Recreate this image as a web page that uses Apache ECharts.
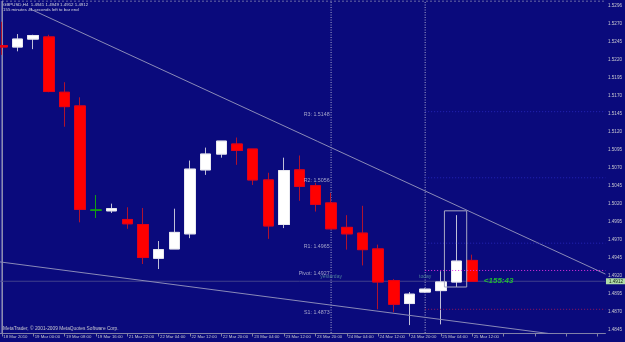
<!DOCTYPE html>
<html><head><meta charset="utf-8">
<script src="https://cdn.jsdelivr.net/npm/echarts@6/dist/echarts.min.js"></script>
<style>html,body{margin:0;padding:0;background:#0a0a7c;overflow:hidden;}#c{width:631px;height:342px;margin-left:-6px;}</style>
</head><body><div id="c"></div>
<script>
// ---- data (H4 bars, GBPUSD) ----
const barTimes = ['18 Mar 2010','18 Mar 20:00','19 Mar 00:00','19 Mar 04:00','19 Mar 08:00','19 Mar 12:00','19 Mar 16:00','19 Mar 20:00','21 Mar 22:00','22 Mar 00:00','22 Mar 04:00','22 Mar 08:00','22 Mar 12:00','22 Mar 16:00','22 Mar 20:00','23 Mar 00:00','23 Mar 04:00','23 Mar 08:00','23 Mar 12:00','23 Mar 16:00','23 Mar 20:00','24 Mar 00:00','24 Mar 04:00','24 Mar 08:00','24 Mar 12:00','24 Mar 16:00','24 Mar 20:00','25 Mar 00:00','25 Mar 04:00','25 Mar 08:00','25 Mar 12:00'];
const futureSlots = ['25 Mar 16:00','25 Mar 20:00','26 Mar 00:00','26 Mar 04:00','26 Mar 08:00','26 Mar 12:00','26 Mar 16:00','26 Mar 20:00'];
const opens  = [1.5240,1.5238,1.5249,1.5252,1.5175,1.5156,1.5011,1.5010,1.4998,1.4991,1.4944,1.4957,1.4978,1.5067,1.5089,1.5103,1.5096,1.5053,1.4991,1.5067,1.5045,1.5021,1.4987,1.4979,1.4957,1.4913,1.4881,1.4897,1.4899,1.4911,1.4941];
const highs  = [1.5273,1.5256,1.5255,1.5255,1.5189,1.5168,1.5032,1.5020,1.5015,1.5014,1.4968,1.5013,1.5080,1.5098,1.5107,1.5112,1.5096,1.5063,1.5084,1.5087,1.5049,1.5035,1.5004,1.5017,1.4963,1.4915,1.4897,1.4902,1.4926,1.5004,1.4949];
const lows   = [1.5227,1.5232,1.5235,1.5175,1.5127,1.4994,1.5000,1.5007,1.4985,1.4936,1.4929,1.4957,1.4972,1.5060,1.5084,1.5074,1.5046,1.4971,1.4986,1.5024,1.5009,1.4985,1.4956,1.4934,1.4873,1.4869,1.4851,1.4896,1.4852,1.4904,1.4912];
const closes = [1.5238,1.5249,1.5254,1.5176,1.5155,1.5012,1.5011,1.5013,1.4992,1.4945,1.4956,1.4980,1.5068,1.5089,1.5107,1.5094,1.5053,1.4989,1.5066,1.5044,1.5019,1.4985,1.4978,1.4956,1.4911,1.4880,1.4894,1.4901,1.4911,1.4940,1.4912];
const yTickLabels = ['1.5296','1.5270','1.5245','1.5220','1.5195','1.5170','1.5145','1.5120','1.5095','1.5070','1.5045','1.5020','1.4995','1.4970','1.4945','1.4920','1.4895','1.4870','1.4845'];
const pivotNames  = ['R3','R2','R1','Pivot','S1'];
const pivotLevels = [1.5148,1.5056,1.4965,1.4927,1.4873];
const dayStartBars = [21, 27];
const dayNames = ['yesterday','today'];
const upperTrendBars = [1.8, 38.5];
const upperTrendPrices = [1.5291, 1.4922];
const lowerTrendBars = [-0.5, 38.5];
const lowerTrendPrices = [1.4940, 1.4829];
const boxBars = [28.23, 29.65];
const boxPrices = [1.5010, 1.4904];
const headerLine1 = 'GBPUSD,H4  1.4941 1.4949 1.4912 1.4912';
const headerLine2 = '155 minutes 41 seconds left to bar end';
const countdownText = '<155:43';
const copyright = 'MetaTrader, \u00a9 2001-2009 MetaQuotes Software Corp.';

// ---- build ----
const yMin = 1.4840, yMax = 1.5302;
const nBars = barTimes.length;
const categories = barTimes.concat(futureSlots);
const leftEdge = -0.5, rightEdge = categories.length - 0.5;
const lastClose = closes[nBars - 1];
const countdownBar = nBars - 1 + 0.71;
const dayLabelPrice = 1.4918;
const font = 'Liberation Sans, Arial, sans-serif';
const yLabelSet = new Set(yTickLabels);
const shift = 6;

const wickData = opens.map((o, i) => [o, closes[i], lows[i], highs[i]]);
const bodyData = opens.map((o, i) => [o, closes[i], Math.min(o, closes[i]), Math.max(o, closes[i])]);

const pivotColors = ['#2626b8','#2626b8','#2626b8','#e030e0','#9a1858'];

const series = [];
series.push({type:'line', xAxisIndex:1, yAxisIndex:0, z:1, symbol:'none', silent:true,
  data:[[leftEdge,yMax],[rightEdge,yMax]], lineStyle:{color:'#8888b0', width:1, type:[2,2]}});
series.push({type:'line', xAxisIndex:1, yAxisIndex:0, z:2, symbol:'none', silent:true,
  data:[[leftEdge,lastClose],[rightEdge,lastClose]], lineStyle:{color:'#40408c', width:1},
  endLabel:{show:true, formatter:lastClose.toFixed(4), backgroundColor:'#b0dca8', color:'#102010',
    fontSize:4.6, fontFamily:font, padding:[0.6,3,0.4,3], distance:0.5}});
dayStartBars.forEach(b => series.push({type:'line', xAxisIndex:1, yAxisIndex:0, z:2, symbol:'none', silent:true,
  data:[[b,yMin],[b,yMax]], lineStyle:{color:'#a8a8cc', width:1, type:[1,1.5]}}));
series.push({type:'line', xAxisIndex:1, yAxisIndex:0, z:2, symbol:'none', silent:true,
  data:[[-0.03,yMin],[-0.03,yMax]], lineStyle:{color:'#6464b0', width:1}});
series.push({type:'candlestick', xAxisIndex:0, yAxisIndex:0, z:3, barWidth:11, silent:true, data:wickData,
  itemStyle:{color:'#ffffff', color0:'#ff0000', borderColor:'#c0c0d8', borderColor0:'#b0122e', borderColorDoji:'#12a012', borderWidth:1}});
series.push({type:'candlestick', xAxisIndex:0, yAxisIndex:0, z:4, barWidth:11, silent:true, data:bodyData,
  itemStyle:{color:'#ffffff', color0:'#ff0000', borderColor:'#e8e8f0', borderColor0:'#e0001a', borderColorDoji:'#12a012', borderWidth:1}});
series.push({type:'line', xAxisIndex:1, yAxisIndex:0, z:5, symbol:'none', silent:true, clip:true,
  data:upperTrendBars.map((b,i)=>[b, upperTrendPrices[i]]), lineStyle:{color:'#8a8ab8', width:1}});
series.push({type:'line', xAxisIndex:1, yAxisIndex:0, z:5, symbol:'none', silent:true, clip:true,
  data:lowerTrendBars.map((b,i)=>[b, lowerTrendPrices[i]]), lineStyle:{color:'#8a8ab8', width:1}});
pivotLevels.forEach((lvl, i) => series.push({type:'line', xAxisIndex:1, yAxisIndex:0, z:6, symbol:'none', silent:true,
  data:[[dayStartBars[1], lvl],[rightEdge, lvl]], lineStyle:{color:pivotColors[i], width:1, type:[1,2]}}));
series.push({type:'scatter', xAxisIndex:1, yAxisIndex:0, z:7, symbolSize:1, silent:true,
  itemStyle:{color:'rgba(0,0,0,0)'},
  data:pivotLevels.map((lvl,i)=>({name:pivotNames[i], value:[dayStartBars[0], lvl]})),
  label:{show:true, position:'left', distance:1, offset:[0,3], color:'#c8c8dc', fontSize:5.3, fontFamily:font,
    formatter:p => p.name + ': ' + p.value[1].toFixed(4)}});
series.push({type:'scatter', xAxisIndex:1, yAxisIndex:0, z:7, symbolSize:1, silent:true,
  itemStyle:{color:'rgba(0,0,0,0)'},
  data:dayStartBars.map((b,i)=>({name:dayNames[i], value:[b, dayLabelPrice]})),
  label:{show:true, position:'inside', color:'#5f9ea0', fontSize:5, fontFamily:font, formatter:p => p.name}});
series.push({type:'line', xAxisIndex:1, yAxisIndex:0, z:6, symbol:'none', silent:true,
  data:[[boxBars[0],boxPrices[0]],[boxBars[1],boxPrices[0]],[boxBars[1],boxPrices[1]],[boxBars[0],boxPrices[1]],[boxBars[0],boxPrices[0]]],
  lineStyle:{color:'#a8a8c4', width:1}});
series.push({type:'scatter', xAxisIndex:1, yAxisIndex:0, z:7, symbolSize:1, silent:true,
  itemStyle:{color:'rgba(0,0,0,0)'},
  data:[[countdownBar, lastClose]],
  label:{show:true, position:'right', distance:0, color:'#22e022', fontSize:8, fontWeight:'bold', fontStyle:'italic',
    fontFamily:font, formatter:countdownText}});

const option = {
  backgroundColor:'#0a0a7c',
  animation:false,
  title:[
    {text:headerLine1, subtext:headerLine2, left:3 + shift, top:2.5, itemGap:1, padding:0,
      textStyle:{color:'#d8d8e0', fontSize:4.4, fontWeight:'normal', fontFamily:font},
      subtextStyle:{color:'#d8d8e0', fontSize:4.4, fontFamily:font}},
    {text:copyright, left:3 + shift, top:326.5, padding:0, textStyle:{color:'#c8c8d0', fontSize:4.8, fontWeight:'normal', fontFamily:font}}
  ],
  grid:{left:0, right:18.75, top:1, bottom:9, containLabel:false},
  xAxis:[
    {type:'category', data:categories, boundaryGap:true,
      axisLine:{show:true, lineStyle:{color:'#8080a8'}},
      axisTick:{show:true, alignWithLabel:true, interval:1, length:3.5, lineStyle:{color:'#8080a8'}},
      axisLabel:{interval:1, align:'left', margin:1.5, padding:[0,0,0,1.5], color:'#c8c8d0', fontSize:4.3, fontFamily:font,
        formatter:(v,i)=> i < nBars ? v : ''},
      splitLine:{show:false}},
    {type:'value', min:leftEdge, max:rightEdge, show:false, splitLine:{show:false}}
  ],
  yAxis:{type:'value', position:'right', min:yMin, max:yMax, interval:0.0001,
    axisLine:{show:true, lineStyle:{color:'#8c8cac'}}, axisTick:{show:false}, splitLine:{show:false},
    axisLabel:{margin:2.5, color:'#c8c8d0', fontSize:4.6, fontFamily:font,
      formatter:v => { const s = v.toFixed(4); return yLabelSet.has(s) ? s : ''; }}},
  series:series
};
const chart = echarts.init(document.getElementById('c'));
chart.setOption(option);
</script></body></html>
